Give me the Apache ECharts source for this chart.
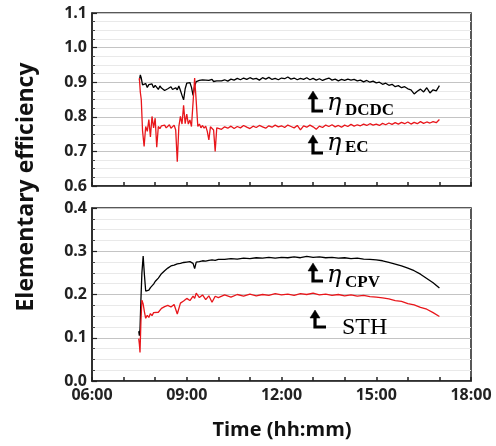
<!DOCTYPE html>
<html><head><meta charset="utf-8">
<script src="https://cdn.jsdelivr.net/npm/echarts@6/dist/echarts.min.js"></script>
<style>html,body{margin:0;padding:0;background:#fff}#c{width:496px;height:446px}</style>
</head><body><div id="c"></div>
<script>
// ---- Data (hours of day) ----
const topTimes = [7.50,7.53,7.56,7.60,7.65,7.70,7.75,7.80,7.85,7.90,7.95,8.00,8.05,8.10,8.15,8.20,8.25,8.30,8.35,8.40,8.45,8.50,8.55,8.60,8.65,8.70,8.75,8.80,8.85,8.90,8.95,9.00,9.05,9.10,9.15,9.20,9.25,9.30,9.35,9.40,9.45,9.50,9.55,9.60,9.65,9.70,9.75,9.80,9.85,9.90,9.95,10.00,
 10.1,10.2,10.3,10.4,10.5,10.6,10.7,10.8,10.9,11.0,11.1,11.2,11.3,11.4,11.5,11.6,11.7,11.8,11.9,12.0,12.1,12.2,12.3,12.4,12.5,12.6,12.7,12.8,12.9,13.0,13.1,13.2,13.3,13.4,13.5,13.6,13.7,13.8,13.9,14.0,14.1,14.2,14.3,14.4,14.5,14.6,14.7,14.8,14.9,15.0,15.1,15.2,15.3,15.4,15.5,15.6,15.7,15.8,15.9,16.0,16.1,16.2,16.3,16.4,16.5,16.6,16.7,16.8,16.9,17.0];
const etaDCDC = [0.905,0.921,0.912,0.892,0.888,0.896,0.885,0.893,0.889,0.895,0.884,0.891,0.887,0.879,0.889,0.883,0.886,0.876,0.872,0.881,0.878,0.887,0.879,0.874,0.884,0.878,0.889,0.876,0.862,0.849,0.881,0.897,0.893,0.899,0.885,0.862,0.889,0.902,0.898,0.905,0.901,0.907,0.903,0.906,0.901,0.905,0.903,0.908,0.902,0.906,0.904,0.909,
 0.904,0.907,0.903,0.909,0.906,0.911,0.907,0.912,0.908,0.913,0.909,0.911,0.906,0.913,0.909,0.914,0.908,0.911,0.907,0.912,0.910,0.915,0.909,0.912,0.907,0.911,0.908,0.913,0.907,0.911,0.906,0.910,0.905,0.909,0.912,0.906,0.909,0.904,0.908,0.905,0.909,0.906,0.908,0.904,0.906,0.901,0.905,0.900,0.903,0.898,0.900,0.894,0.897,0.891,0.894,0.887,0.890,0.884,0.887,0.881,0.878,0.866,0.874,0.880,0.872,0.884,0.869,0.878,0.875,0.890];
const etaEC = [0.912,0.871,0.850,0.760,0.714,0.772,0.758,0.792,0.742,0.801,0.768,0.796,0.712,0.772,0.766,0.774,0.769,0.776,0.768,0.771,0.777,0.767,0.772,0.776,0.762,0.670,0.772,0.801,0.779,0.833,0.780,0.808,0.779,0.791,0.772,0.842,0.912,0.845,0.772,0.779,0.768,0.775,0.767,0.773,0.758,0.733,0.771,0.774,0.762,0.700,0.768,0.772,
 0.764,0.771,0.767,0.773,0.766,0.772,0.768,0.775,0.770,0.766,0.773,0.769,0.775,0.771,0.767,0.774,0.770,0.776,0.771,0.774,0.769,0.776,0.772,0.768,0.775,0.762,0.774,0.770,0.776,0.771,0.764,0.773,0.769,0.776,0.772,0.777,0.771,0.775,0.770,0.776,0.772,0.778,0.773,0.777,0.774,0.779,0.775,0.780,0.776,0.779,0.775,0.781,0.777,0.782,0.778,0.783,0.779,0.784,0.780,0.785,0.779,0.784,0.780,0.786,0.781,0.785,0.782,0.786,0.783,0.792];

const botTimes = [7.48,7.50,7.52,7.55,7.58,7.62,7.66,7.70,7.75,7.80,7.85,7.90,7.95,8.00,8.10,8.20,8.30,8.40,8.50,8.60,8.70,8.80,8.90,9.00,9.10,9.20,9.25,9.30,9.40,9.50,9.60,9.70,9.80,9.90,10.00,
 10.2,10.4,10.6,10.8,11.0,11.2,11.4,11.6,11.8,12.0,12.2,12.4,12.6,12.8,13.0,13.2,13.4,13.6,13.8,14.0,14.2,14.4,14.6,14.8,15.0,15.2,15.4,15.6,15.8,16.0,16.2,16.4,16.6,16.8,17.0];
const etaCPV = [0.115,0.105,0.120,0.190,0.250,0.289,0.245,0.208,0.212,0.210,0.216,0.219,0.224,0.230,0.238,0.248,0.255,0.261,0.266,0.268,0.271,0.272,0.274,0.275,0.276,0.272,0.260,0.275,0.276,0.278,0.277,0.279,0.280,0.279,0.281,
 0.281,0.283,0.282,0.284,0.283,0.285,0.284,0.286,0.284,0.286,0.285,0.287,0.285,0.288,0.286,0.287,0.285,0.286,0.284,0.285,0.283,0.284,0.282,0.281,0.280,0.278,0.274,0.270,0.266,0.261,0.255,0.247,0.237,0.227,0.215];
const sth = [0.098,0.085,0.066,0.140,0.187,0.178,0.160,0.145,0.152,0.147,0.156,0.151,0.158,0.162,0.159,0.168,0.172,0.175,0.171,0.177,0.155,0.180,0.185,0.191,0.186,0.196,0.191,0.203,0.193,0.199,0.188,0.197,0.182,0.196,0.193,
 0.199,0.194,0.200,0.196,0.201,0.197,0.200,0.198,0.202,0.199,0.201,0.198,0.202,0.200,0.203,0.199,0.201,0.198,0.200,0.197,0.199,0.196,0.198,0.195,0.194,0.192,0.190,0.186,0.184,0.179,0.176,0.170,0.166,0.158,0.149];

const xTicks = [6, 9, 12, 15, 18];
const topY = {min: 0.6, max: 1.1};
const botY = {min: 0.0, max: 0.4};

// ---- Build ----
const zip = (t, v) => t.map((x, i) => [x, v[i]]);
const fmtTime = h => (h < 10 ? '0' : '') + h + ':00';
const labelFont = {fontFamily: 'Open Sans', fontWeight: 'bold', fontSize: 16, color: '#222'};

function xAxis(gi, showLabel) {
  return {
    type: 'value', gridIndex: gi, min: xTicks[0], max: xTicks[xTicks.length - 1], interval: 3,
    axisLine: {show: true, onZero: false, lineStyle: {color: '#222', width: 1.5}},
    axisTick: {show: true, inside: true, length: 4, lineStyle: {color: '#222', width: 1.5}},
    minorTick: {show: true, splitNumber: 3, length: 4, lineStyle: {color: '#222', width: 1.5}},
    splitLine: {show: false},
    axisLabel: Object.assign({show: showLabel, margin: 6, formatter: fmtTime}, labelFont)
  };
}
function yAxis(gi, r) {
  return {
    type: 'value', gridIndex: gi, min: r.min, max: r.max, interval: 0.1,
    axisLine: {show: true, onZero: false, lineStyle: {color: '#222', width: 1.5}},
    axisTick: {show: true, inside: true, length: 5, lineStyle: {color: '#222', width: 1.2}},
    minorTick: {show: true, splitNumber: 4, length: 3, lineStyle: {color: '#444', width: 1}},
    splitLine: {show: true, lineStyle: {color: '#c4c4c4', width: 1}},
    minorSplitLine: {show: true, lineStyle: {color: '#e9e9e9', width: 1}},
    axisLabel: Object.assign({margin: 5, formatter: v => v.toFixed(1)}, labelFont)
  };
}
function line(name, xi, data, color) {
  return {name, type: 'line', xAxisIndex: xi, yAxisIndex: xi, data, showSymbol: false, symbol: 'none',
    lineStyle: {color, width: 1.3}, itemStyle: {color}, z: 5, animation: false};
}
function arrow(x, yTip, yBot, xEnd) {
  return [
    {type: 'polyline', z: 100, shape: {points: [[x, yTip + 6], [x, yBot], [xEnd, yBot]]},
     style: {stroke: '#000', lineWidth: 3.2, fill: null, lineJoin: 'miter', lineCap: 'butt'}},
    {type: 'polygon', z: 100, shape: {points: [[x, yTip], [x - 5, yTip + 8], [x + 5, yTip + 8]]},
     style: {fill: '#000', stroke: '#000', lineWidth: 0.5}}
  ];
}
const serif = 'Liberation Serif';
function txt(x, y, t, size, weight, italic, family) {
  return {type: 'text', x, y, z: 100, style: {text: t, fontSize: size, fontFamily: family || serif,
    fontWeight: weight, fontStyle: italic ? 'italic' : 'normal', fill: '#000', verticalAlign: 'middle'}};
}
const etaFont = 'DejaVu Serif';

const chart = echarts.init(document.getElementById('c'), null, {renderer: 'canvas'});
chart.setOption({
  animation: false,
  backgroundColor: '#fff',
  grid: [
    {left: 92, top: 13, width: 379, height: 173, show: true, borderColor: '#222', borderWidth: 1.5, backgroundColor: 'transparent'},
    {left: 92, top: 208, width: 379, height: 173, show: true, borderColor: '#222', borderWidth: 1.5, backgroundColor: 'transparent'}
  ],
  xAxis: [xAxis(0, false), xAxis(1, true)],
  yAxis: [yAxis(0, topY), yAxis(1, botY)],
  series: [
    line('ηDCDC', 0, zip(topTimes, etaDCDC), '#000'),
    line('ηEC', 0, zip(topTimes, etaEC), '#e8161b'),
    line('ηCPV', 1, zip(botTimes, etaCPV), '#000'),
    line('STH', 1, zip(botTimes, sth), '#e8161b')
  ],
  graphic: [
    {type: 'text', x: 26, y: 187, rotation: Math.PI / 2,
     style: {text: 'Elementary efficiency', fontSize: 23, fontWeight: 'bold', fontFamily: 'Open Sans', fill: '#111', align: 'center', verticalAlign: 'middle'}},
    {type: 'text', x: 282, y: 430,
     style: {text: 'Time (hh:mm)', fontSize: 20, fontWeight: 'bold', fontFamily: 'Open Sans', fill: '#111', align: 'center', verticalAlign: 'middle'}},
    ...arrow(313, 91, 111, 323),
    txt(327, 104, 'η', 24, 'normal', true, etaFont), txt(345, 110.5, 'DCDC', 17, 'bold', false),
    ...arrow(313, 135, 153, 323),
    txt(327, 144, 'η', 24, 'normal', true, etaFont), txt(345, 148, 'EC', 17, 'bold', false),
    ...arrow(313, 263, 281, 323),
    txt(327, 276, 'η', 24, 'normal', true, etaFont), txt(345, 283, 'CPV', 17, 'bold', false),
    ...arrow(315, 310, 327, 326),
    txt(342, 328, 'STH', 24, 'normal', false)
  ]
});
</script></body></html>
